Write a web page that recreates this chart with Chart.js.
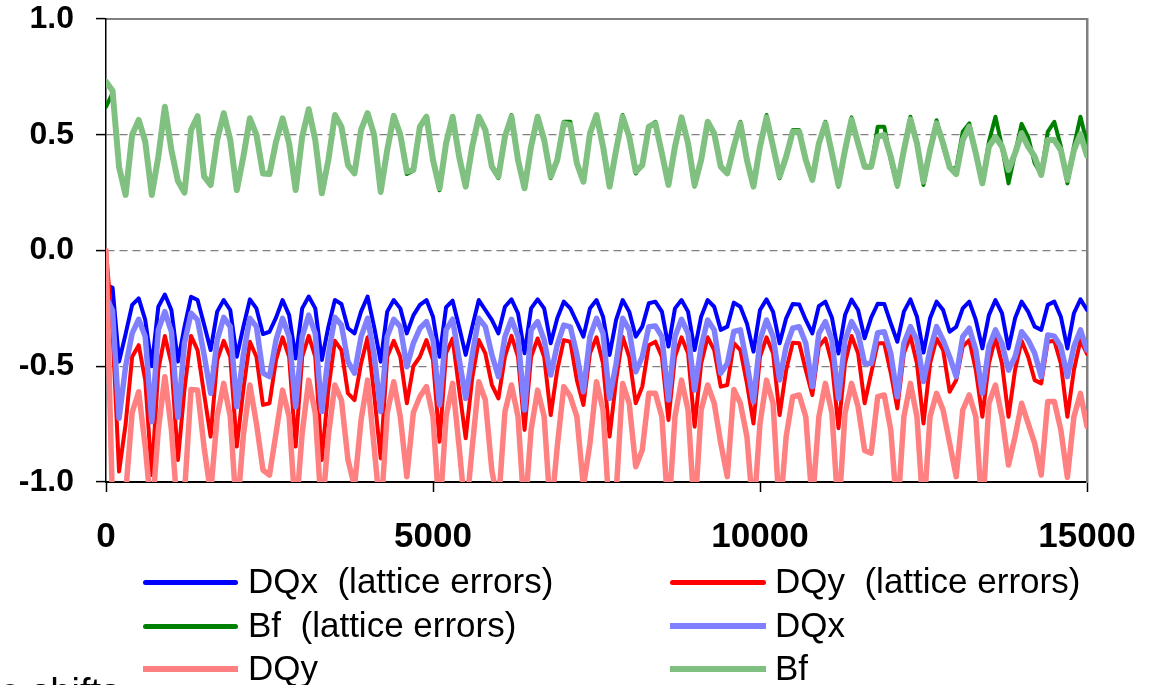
<!DOCTYPE html>
<html>
<head>
<meta charset="utf-8">
<script src="https://cdn.jsdelivr.net/npm/chart.js@4.4.1/dist/chart.umd.min.js"></script>
<style>
html,body{margin:0;padding:0;background:#fff;overflow:hidden;}
#wrap{position:relative;width:1154px;height:685px;overflow:hidden;background:#fff;}
#c{position:absolute;left:0;top:0;}
.legtxt{position:absolute;font-family:"Liberation Sans",Arial,sans-serif;font-size:35px;line-height:40px;white-space:pre;color:#000;}
.legline{position:absolute;}
#note{position:absolute;font-family:"Liberation Sans",Arial,sans-serif;font-size:38px;line-height:38px;white-space:pre;color:#000;text-align:right;width:300px;left:-180px;top:673px;}
</style>
</head>
<body>
<div id="wrap">
<canvas id="c" width="1154" height="685"></canvas>
<div id="legend"></div>
<div id="note">Tune shifts</div>
</div>
<script>
// ---- data ----
const turns = [
0,100,200,300,400,500,600,700,800,900,
1000,1100,1200,1300,1400,1500,1600,1700,1800,1900,
2000,2100,2200,2300,2400,2500,2600,2700,2800,2900,
3000,3100,3200,3300,3400,3500,3600,3700,3800,3900,
4000,4100,4200,4300,4400,4500,4600,4700,4800,4900,
5000,5100,5200,5300,5400,5500,5600,5700,5800,5900,
6000,6100,6200,6300,6400,6500,6600,6700,6800,6900,
7000,7100,7200,7300,7400,7500,7600,7700,7800,7900,
8000,8100,8200,8300,8400,8500,8600,8700,8800,8900,
9000,9100,9200,9300,9400,9500,9600,9700,9800,9900,
10000,10100,10200,10300,10400,10500,10600,10700,10800,10900,
11000,11100,11200,11300,11400,11500,11600,11700,11800,11900,
12000,12100,12200,12300,12400,12500,12600,12700,12800,12900,
13000,13100,13200,13300,13400,13500,13600,13700,13800,13900,
14000,14100,14200,14300,14400,14500,14600,14700,14800,14900,
15000];

const dqxLattice = [
-0.15,-0.16,-0.48,-0.36,-0.235,-0.207,-0.30,-0.50,-0.243,-0.19,
-0.257,-0.48,-0.33,-0.20,-0.214,-0.32,-0.43,-0.264,-0.214,-0.257,
-0.459,-0.33,-0.211,-0.25,-0.361,-0.351,-0.29,-0.214,-0.279,-0.466,
-0.25,-0.199,-0.25,-0.473,-0.33,-0.214,-0.231,-0.336,-0.358,-0.264,
-0.199,-0.33,-0.48,-0.264,-0.214,-0.25,-0.358,-0.28,-0.235,-0.214,
-0.286,-0.459,-0.245,-0.217,-0.33,-0.451,-0.33,-0.214,-0.257,-0.30,
-0.358,-0.243,-0.211,-0.271,-0.444,-0.25,-0.211,-0.25,-0.401,-0.293,
-0.221,-0.25,-0.31,-0.372,-0.25,-0.214,-0.286,-0.451,-0.30,-0.214,
-0.264,-0.372,-0.329,-0.228,-0.221,-0.264,-0.415,-0.25,-0.214,-0.264,
-0.43,-0.286,-0.214,-0.243,-0.343,-0.329,-0.225,-0.243,-0.315,-0.437,
-0.257,-0.211,-0.265,-0.401,-0.293,-0.231,-0.233,-0.30,-0.358,-0.24,
-0.221,-0.29,-0.445,-0.279,-0.212,-0.257,-0.379,-0.29,-0.23,-0.231,
-0.315,-0.394,-0.264,-0.211,-0.286,-0.441,-0.293,-0.221,-0.257,-0.351,
-0.33,-0.25,-0.221,-0.30,-0.423,-0.279,-0.214,-0.271,-0.423,-0.293,
-0.221,-0.264,-0.329,-0.343,-0.235,-0.221,-0.286,-0.423,-0.271,-0.211,
-0.257];

const dqyLattice = [
0.0,-0.35,-0.955,-0.75,-0.459,-0.409,-0.56,-0.97,-0.516,-0.369,
-0.488,-0.905,-0.60,-0.369,-0.43,-0.62,-0.804,-0.473,-0.39,-0.459,
-0.847,-0.60,-0.394,-0.459,-0.667,-0.66,-0.473,-0.375,-0.459,-0.847,
-0.459,-0.369,-0.459,-0.905,-0.60,-0.39,-0.43,-0.617,-0.646,-0.488,
-0.375,-0.62,-0.898,-0.459,-0.39,-0.459,-0.66,-0.50,-0.459,-0.387,
-0.473,-0.826,-0.444,-0.38,-0.60,-0.811,-0.55,-0.387,-0.444,-0.58,
-0.639,-0.459,-0.369,-0.459,-0.775,-0.459,-0.38,-0.459,-0.711,-0.516,
-0.387,-0.394,-0.56,-0.667,-0.444,-0.375,-0.488,-0.804,-0.56,-0.372,
-0.459,-0.66,-0.588,-0.409,-0.394,-0.459,-0.732,-0.459,-0.375,-0.444,
-0.761,-0.488,-0.375,-0.43,-0.588,-0.581,-0.40,-0.43,-0.574,-0.747,
-0.459,-0.375,-0.444,-0.711,-0.516,-0.399,-0.401,-0.516,-0.624,-0.415,
-0.38,-0.488,-0.768,-0.488,-0.369,-0.444,-0.66,-0.53,-0.401,-0.401,
-0.53,-0.682,-0.444,-0.369,-0.488,-0.747,-0.488,-0.38,-0.43,-0.61,
-0.56,-0.415,-0.387,-0.516,-0.718,-0.488,-0.375,-0.488,-0.718,-0.516,
-0.39,-0.459,-0.56,-0.574,-0.394,-0.39,-0.488,-0.718,-0.516,-0.387,
-0.447];

const bfLattice = [
0.62,0.68,0.36,0.245,0.50,0.56,0.47,0.245,0.40,0.62,
0.434,0.30,0.25,0.52,0.58,0.32,0.28,0.477,0.59,0.477,
0.26,0.405,0.571,0.50,0.333,0.33,0.47,0.571,0.463,0.26,
0.49,0.61,0.477,0.247,0.391,0.585,0.535,0.369,0.333,0.521,
0.593,0.50,0.25,0.434,0.585,0.50,0.33,0.345,0.535,0.578,
0.391,0.26,0.463,0.578,0.405,0.276,0.449,0.578,0.521,0.362,
0.312,0.492,0.585,0.391,0.269,0.45,0.578,0.477,0.312,0.391,
0.556,0.556,0.377,0.297,0.506,0.585,0.449,0.276,0.434,0.585,
0.492,0.333,0.369,0.535,0.556,0.420,0.283,0.449,0.575,0.463,
0.276,0.391,0.556,0.506,0.362,0.333,0.449,0.556,0.391,0.276,
0.449,0.585,0.449,0.312,0.405,0.52,0.52,0.391,0.305,0.463,
0.556,0.42,0.276,0.434,0.575,0.463,0.36,0.36,0.535,0.535,
0.39,0.276,0.44,0.578,0.47,0.283,0.44,0.563,0.45,0.355,
0.355,0.513,0.549,0.42,0.29,0.47,0.578,0.45,0.29,0.42,
0.547,0.49,0.377,0.33,0.513,0.556,0.45,0.29,0.45,0.578,
0.463];

const dqx = [
-0.20,-0.26,-0.725,-0.50,-0.358,-0.297,-0.372,-0.74,-0.343,-0.264,
-0.35,-0.72,-0.40,-0.271,-0.30,-0.45,-0.617,-0.387,-0.289,-0.329,
-0.675,-0.45,-0.293,-0.329,-0.53,-0.545,-0.387,-0.293,-0.372,-0.675,
-0.372,-0.279,-0.358,-0.696,-0.45,-0.289,-0.322,-0.48,-0.53,-0.372,
-0.293,-0.45,-0.696,-0.372,-0.297,-0.329,-0.502,-0.40,-0.336,-0.307,
-0.387,-0.667,-0.343,-0.297,-0.47,-0.639,-0.45,-0.293,-0.329,-0.45,
-0.545,-0.372,-0.297,-0.372,-0.689,-0.343,-0.307,-0.387,-0.538,-0.408,
-0.322,-0.33,-0.45,-0.61,-0.372,-0.293,-0.358,-0.639,-0.488,-0.293,
-0.343,-0.524,-0.459,-0.329,-0.326,-0.372,-0.646,-0.372,-0.297,-0.358,
-0.603,-0.415,-0.30,-0.343,-0.53,-0.488,-0.35,-0.343,-0.488,-0.653,
-0.387,-0.30,-0.372,-0.559,-0.415,-0.336,-0.329,-0.401,-0.588,-0.358,
-0.307,-0.387,-0.639,-0.387,-0.307,-0.358,-0.488,-0.488,-0.355,-0.351,
-0.444,-0.632,-0.401,-0.329,-0.387,-0.566,-0.43,-0.329,-0.387,-0.46,
-0.545,-0.372,-0.336,-0.43,-0.617,-0.415,-0.343,-0.401,-0.517,-0.459,
-0.351,-0.387,-0.444,-0.545,-0.365,-0.37,-0.415,-0.545,-0.415,-0.343,
-0.43];

const dqy = [
0.0,-1.1,-1.2,-1.05,-0.70,-0.61,-0.847,-1.15,-0.775,-0.545,
-0.775,-1.15,-1.05,-0.60,-0.603,-0.85,-1.05,-0.718,-0.574,-0.718,
-1.15,-0.80,-0.581,-0.747,-0.948,-0.97,-0.789,-0.603,-0.718,-1.15,
-0.789,-0.56,-0.703,-1.15,-0.80,-0.581,-0.646,-0.905,-1.02,-0.732,
-0.56,-0.85,-1.15,-0.703,-0.567,-0.718,-0.977,-0.70,-0.631,-0.588,
-0.718,-1.15,-0.718,-0.574,-0.85,-1.15,-0.85,-0.567,-0.646,-0.95,
-1.1,-0.696,-0.581,-0.718,-1.15,-0.775,-0.603,-0.718,-1.15,-0.847,
-0.588,-0.631,-0.718,-1.02,-0.833,-0.567,-0.689,-1.15,-1.05,-0.574,
-0.66,-0.934,-0.862,-0.617,-0.617,-0.718,-1.15,-0.718,-0.56,-0.689,
-1.15,-0.689,-0.581,-0.66,-0.833,-0.977,-0.60,-0.66,-0.804,-1.15,
-0.747,-0.56,-0.66,-1.15,-0.804,-0.631,-0.624,-0.718,-1.1,-0.718,
-0.574,-0.703,-1.15,-0.703,-0.574,-0.675,-0.864,-0.876,-0.631,-0.624,
-0.775,-1.15,-0.718,-0.574,-0.718,-1.15,-0.718,-0.617,-0.689,-0.833,
-0.977,-0.689,-0.624,-0.718,-1.15,-0.66,-0.581,-0.718,-0.927,-0.804,
-0.66,-0.747,-0.833,-0.97,-0.652,-0.652,-0.775,-0.98,-0.718,-0.617,
-0.76];

const bf = [
0.729,0.69,0.36,0.24,0.50,0.564,0.47,0.24,0.405,0.621,
0.434,0.30,0.25,0.52,0.58,0.32,0.283,0.477,0.593,0.477,
0.261,0.405,0.571,0.50,0.333,0.330,0.47,0.571,0.463,0.261,
0.492,0.610,0.477,0.247,0.391,0.585,0.535,0.369,0.333,0.521,
0.593,0.50,0.254,0.434,0.581,0.50,0.341,0.348,0.535,0.578,
0.391,0.269,0.463,0.578,0.405,0.276,0.449,0.578,0.521,0.362,
0.319,0.492,0.578,0.391,0.269,0.45,0.578,0.477,0.319,0.391,
0.549,0.542,0.377,0.297,0.506,0.585,0.449,0.276,0.434,0.578,
0.492,0.341,0.369,0.535,0.549,0.420,0.283,0.449,0.575,0.463,
0.283,0.391,0.556,0.506,0.362,0.333,0.449,0.549,0.391,0.276,
0.449,0.575,0.449,0.319,0.405,0.513,0.513,0.391,0.305,0.463,
0.549,0.42,0.283,0.434,0.566,0.463,0.362,0.362,0.492,0.499,
0.405,0.283,0.434,0.566,0.463,0.297,0.434,0.549,0.463,0.36,
0.33,0.477,0.535,0.42,0.29,0.449,0.49,0.449,0.348,0.42,
0.506,0.449,0.405,0.326,0.477,0.477,0.434,0.305,0.434,0.503,
0.41];

const seriesLabels = ["DQx  (lattice errors)", "DQy  (lattice errors)", "Bf  (lattice errors)", "DQx", "DQy", "Bf"];
const xTicks = [0, 5000, 10000, 15000];
const yTicks = [-1.0, -0.5, 0.0, 0.5, 1.0];

// ---- styles ----
const seriesValues = [dqxLattice, dqyLattice, bfLattice, dqx, dqy, bf];
const seriesStyles = [
  {color:'#0000FF', width:4, leg:5, round:true},
  {color:'#FF0000', width:4, leg:5, round:true},
  {color:'#008000', width:4, leg:5, round:true},
  {color:'#8080FF', width:5.5, leg:6, round:false},
  {color:'#FF8080', width:5.5, leg:6, round:false},
  {color:'#80C080', width:6, leg:6, round:false}
];
const FONT = '"Liberation Sans", Arial, sans-serif';

const datasets = seriesValues.map((vals, i) => ({
  label: seriesLabels[i],
  data: turns.map((t, k) => ({x: t, y: vals[k]})),
  borderColor: seriesStyles[i].color,
  backgroundColor: seriesStyles[i].color,
  borderWidth: seriesStyles[i].width,
  borderJoinStyle: 'round',
  borderCapStyle: 'round',
  pointRadius: 0,
  pointHoverRadius: 0,
  tension: 0,
  fill: false,
  order: 6 - i
}));

new Chart(document.getElementById('c'), {
  type: 'line',
  data: { datasets },
  options: {
    responsive: false,
    animation: false,
    devicePixelRatio: 1,
    layout: { padding: { top: 19, right: 67, left: 0, bottom: 0 } },
    plugins: { legend: { display: false }, tooltip: { enabled: false } },
    scales: {
      x: {
        type: 'linear', position: 'bottom', min: 0, max: 15000,
        afterBuildTicks: s => { s.ticks = xTicks.map(v => ({ value: v })); },
        afterFit: s => { s.height = 203; s.paddingLeft = 0; s.paddingRight = 0; },
        grid: { drawOnChartArea: false, drawTicks: true, tickLength: 10, tickColor: '#000', tickWidth: 1.5, color: '#000' },
        border: { color: '#000', width: 2 },
        ticks: { font: { family: FONT, size: 35, weight: 'bold' }, color: '#000', padding: 24, maxRotation: 0, autoSkip: false,
                 callback: v => String(v) }
      },
      xTop: {
        type: 'linear', position: 'top', min: 0, max: 15000,
        afterFit: s => { s.height = 0; s.paddingLeft = 0; s.paddingRight = 0; },
        ticks: { display: false },
        grid: { display: false, drawTicks: false },
        border: { color: '#808080', width: 2 }
      },
      y: {
        type: 'linear', position: 'left', min: -1, max: 1,
        afterBuildTicks: s => { s.ticks = yTicks.map(v => ({ value: v })); },
        afterFit: s => { s.width = 106; s.paddingTop = 0; s.paddingBottom = 0; },
        grid: {
          color: c => (c.tick && Math.abs(c.tick.value) > 0.99) ? 'rgba(0,0,0,0)' : '#808080',
          lineWidth: 1.2, drawTicks: true, tickLength: 10, tickColor: '#000', tickWidth: 1.5
        },
        border: { color: '#000', width: 1.5, dash: [8, 5] },
        ticks: { font: { family: FONT, size: 32, weight: 'bold' }, color: '#000', padding: 22,
                 callback: v => Number(v).toFixed(1) }
      },
      yRight: {
        type: 'linear', position: 'right', min: -1, max: 1,
        afterFit: s => { s.width = 0; s.paddingTop = 0; s.paddingBottom = 0; },
        ticks: { display: false },
        grid: { display: false, drawTicks: false },
        border: { color: '#808080', width: 2.5 }
      }
    }
  }
});

// ---- HTML legend (two columns, row-major like the original) ----
const legend = document.getElementById('legend');
const colLine = [{left:143, width:95}, {left:670, width:96}];
const colText = [248, 775];
const rowY = [582, 626, 669];
seriesLabels.forEach((lab, i) => {
  const col = i % 2, row = Math.floor(i / 2);
  const st = seriesStyles[i];
  const ln = document.createElement('div');
  ln.className = 'legline';
  ln.style.left = colLine[col].left + 'px';
  ln.style.width = colLine[col].width + 'px';
  ln.style.height = st.leg + 'px';
  ln.style.top = (rowY[row] - st.leg / 2) + 'px';
  ln.style.background = st.color;
  if (st.round) ln.style.borderRadius = (st.leg / 2) + 'px';
  legend.appendChild(ln);
  const tx = document.createElement('div');
  tx.className = 'legtxt';
  tx.style.left = colText[col] + 'px';
  tx.style.top = (rowY[row] - 21) + 'px';
  tx.textContent = lab;
  legend.appendChild(tx);
});
</script>
</body>
</html>
